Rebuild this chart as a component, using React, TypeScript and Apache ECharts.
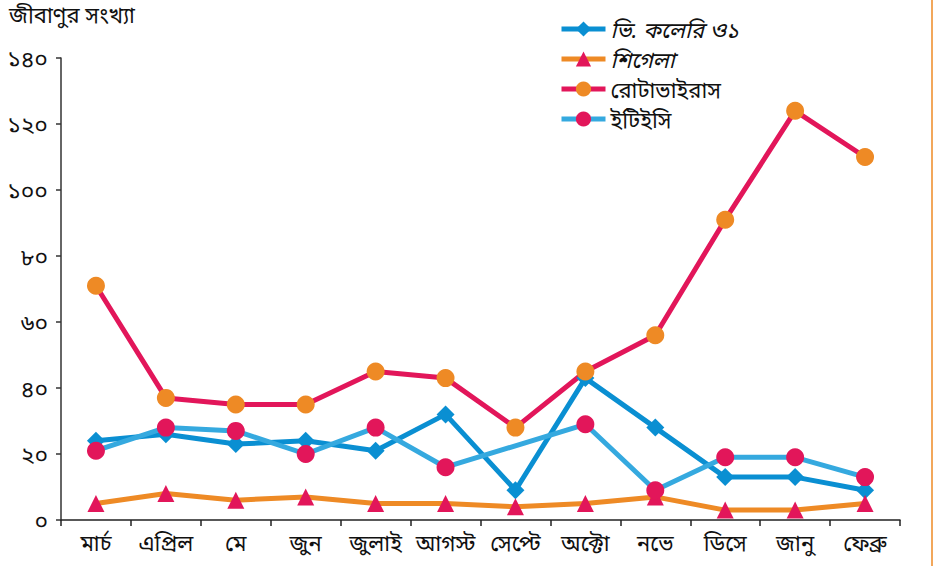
import React, { useEffect, useRef } from "react";
import * as echarts from "echarts";

const months = ["মার্চ", "এপ্রিল", "মে", "জুন", "জুলাই", "আগস্ট", "সেপ্টে", "অক্টো", "নভে", "ডিসে", "জানু", "ফেব্রু"];
const cholera = [24, 26, 23, 24, 21, 32, 9, 43, 28, 13, 13, 9];
const shigella = [5, 8, 6, 7, 5, 5, 4, 5, 7, 3, 3, 5];
const rotavirus = [71, 37, 35, 35, 45, 43, 28, 45, 56, 91, 124, 110];
const etec = [21, 28, 27, 20, 28, 16, null, 29, 9, 19, 19, 13];
const seriesNames = ["ভি. কলেরি ও১", "শিগেলা", "রোটাভাইরাস", "ইটিইসি"];
const yTitle = "জীবাণুর সংখ্যা";
const bnDigits = ["০", "১", "২", "৩", "৪", "৫", "৬", "৭", "৮", "৯"];

const toBn = (v: number) => String(v).replace(/[0-9]/g, (d) => bnDigits[Number(d)]);

const FONT = "'Noto Sans', 'Noto Sans Bengali', sans-serif";
const BLUE = "#0a8fd2";
const LIGHT = "#35a9df";
const CRIMSON = "#e2165a";
const ORANGE = "#ee8a25";

export default function App() {
  const ref = useRef<HTMLDivElement>(null);
  useEffect(() => {
    document.body.style.margin = "0";
    const chart = echarts.init(ref.current!, null, { renderer: "svg" });
    const lineSeries = (name: string, data: any[], lineColor: string, symColor: string, symbol: string, size: number) => ({
      name,
      type: "line",
      data,
      symbol,
      symbolSize: size,
      connectNulls: true,
      lineStyle: { color: lineColor, width: 5 },
      itemStyle: { color: symColor },
    });
    chart.setOption({
      animation: false,
      textStyle: { fontFamily: FONT },
      grid: { left: 61, right: 36, top: 58, bottom: 46, containLabel: false },
      legend: {
        orient: "vertical",
        left: 554,
        top: 13,
        itemWidth: 44,
        itemHeight: 19,
        itemGap: 8,
        lineStyle: { width: 5 },
        data: seriesNames,
        formatter: (n: string) => (n === seriesNames[0] || n === seriesNames[1] ? `{i|${n}}` : `{n|${n}}`),
        textStyle: {
          fontFamily: FONT,
          fontSize: 22,
          color: "#111",
          rich: {
            i: { fontStyle: "italic", fontSize: 22, fontFamily: FONT, color: "#111" },
            n: { fontSize: 22, fontFamily: FONT, color: "#111" },
          },
        },
      },
      xAxis: {
        type: "category",
        data: months,
        boundaryGap: true,
        axisLine: { lineStyle: { color: "#222", width: 1.5 } },
        axisTick: { show: true, length: 6, lineStyle: { color: "#222", width: 1.5 } },
        axisLabel: { fontFamily: FONT, fontSize: 22, color: "#111", margin: 11, interval: 0 },
      },
      yAxis: {
        type: "value",
        min: 0,
        max: 140,
        interval: 20,
        splitLine: { show: false },
        axisLine: { show: true, lineStyle: { color: "#333", width: 1.5 } },
        axisTick: { show: true, length: 5, lineStyle: { color: "#333", width: 1.5 } },
        axisLabel: { fontFamily: FONT, fontSize: 23, color: "#111", margin: 13, formatter: (v: number) => toBn(v) },
      },
      graphic: [
        { type: "text", left: 9, top: 3, style: { text: yTitle, font: `22px ${FONT}`, fill: "#111" } },
        { type: "line", shape: { x1: 932, y1: 0, x2: 932, y2: 566 }, style: { stroke: ORANGE, lineWidth: 1.5 } },
      ],
      series: [
        lineSeries(seriesNames[0], cholera, BLUE, BLUE, "diamond", 18),
        lineSeries(seriesNames[1], shigella, ORANGE, CRIMSON, "triangle", 17),
        lineSeries(seriesNames[2], rotavirus, CRIMSON, ORANGE, "circle", 18),
        lineSeries(seriesNames[3], etec, LIGHT, CRIMSON, "circle", 18),
      ],
    });
    return () => chart.dispose();
  }, []);
  return <div ref={ref} style={{ width: 936, height: 566 }} />;
}
